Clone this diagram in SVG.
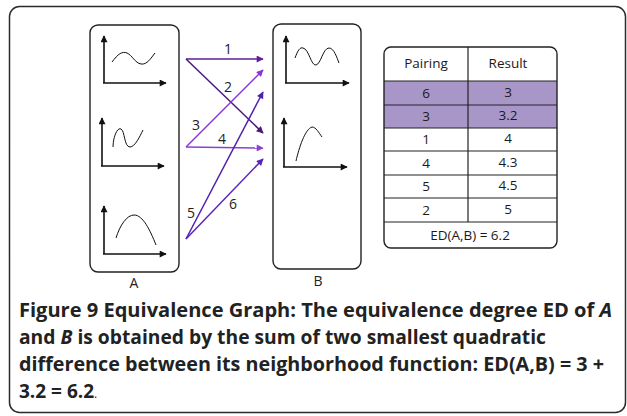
<svg xmlns="http://www.w3.org/2000/svg" width="627" height="416" viewBox="0 0 627 416">
<style>
.frame{fill:none;stroke:#2b2b2b;stroke-width:1.5}
.box{fill:#fff;stroke:#222;stroke-width:1.4}
.axis{fill:none;stroke:#111;stroke-width:1.6}
.curve{fill:none;stroke:#111;stroke-width:1}
.lbl{font-family:"Open Sans","Liberation Sans",sans-serif;font-size:14px;fill:#222;text-anchor:middle}
.tbl{font-family:"Open Sans","Liberation Sans",sans-serif;font-size:13.5px;fill:#1a1a1a;text-anchor:middle}
.cap{font-family:"Open Sans","Liberation Sans",sans-serif;font-size:19px;fill:#222;font-weight:700}
.hl{fill:#a896c9}
.line{stroke:#222;stroke-width:1.2}
.conn{fill:none;stroke-width:1.5}
</style>
<defs>
<marker id="axh" viewBox="0 0 10 10" refX="9" refY="5" markerWidth="8" markerHeight="7" markerUnits="userSpaceOnUse" orient="auto"><path d="M0,0 L10,5 L0,10 z" fill="#111"/></marker>
<marker id="m1" viewBox="0 0 10 10" refX="9" refY="5" markerWidth="9" markerHeight="7" markerUnits="userSpaceOnUse" orient="auto"><path d="M0,0 L10,5 L0,10 z" fill="#5c1f99"/></marker>
<marker id="m2" viewBox="0 0 10 10" refX="9" refY="5" markerWidth="9" markerHeight="7" markerUnits="userSpaceOnUse" orient="auto"><path d="M0,0 L10,5 L0,10 z" fill="#4a1a7a"/></marker>
<marker id="m3" viewBox="0 0 10 10" refX="9" refY="5" markerWidth="9" markerHeight="7" markerUnits="userSpaceOnUse" orient="auto"><path d="M0,0 L10,5 L0,10 z" fill="#8b35d6"/></marker>
<marker id="m4" viewBox="0 0 10 10" refX="9" refY="5" markerWidth="9" markerHeight="7" markerUnits="userSpaceOnUse" orient="auto"><path d="M0,0 L10,5 L0,10 z" fill="#8d3fd0"/></marker>
<marker id="m5" viewBox="0 0 10 10" refX="9" refY="5" markerWidth="9" markerHeight="7" markerUnits="userSpaceOnUse" orient="auto"><path d="M0,0 L10,5 L0,10 z" fill="#5020b0"/></marker>
<marker id="m6" viewBox="0 0 10 10" refX="9" refY="5" markerWidth="9" markerHeight="7" markerUnits="userSpaceOnUse" orient="auto"><path d="M0,0 L10,5 L0,10 z" fill="#5a22b8"/></marker>
</defs>
<rect width="627" height="416" fill="#fff"/>
<rect class="frame" x="9.5" y="6.5" width="616" height="406" rx="10"/>

<g id="nodeA">
<rect class="box" x="90" y="25" width="89" height="247" rx="8"/>
<g>
<path class="axis" d="M104,83 L104,36" marker-end="url(#axh)"/>
<path class="axis" d="M103,83 L166,83" marker-end="url(#axh)"/>
<path class="curve" d="M112,62 C118,54 122,51 127,53 C132,55 135,63 141,64 C147,65 151,58 155,53"/>
</g>
<g>
<path class="axis" d="M102,166 L102,118" marker-end="url(#axh)"/>
<path class="axis" d="M101,166 L164,166" marker-end="url(#axh)"/>
<path class="curve" d="M113,147 C113,138 117,127 121,129 C125,131 124,147 130,147 C135,147 140,136 143,130"/>
</g>
<g>
<path class="axis" d="M104,254 L104,206" marker-end="url(#axh)"/>
<path class="axis" d="M103,254 L166,254" marker-end="url(#axh)"/>
<path class="curve" d="M116,238 C120,225 127,215 134,215 C143,215 150,230 156,245"/>
</g>
<text class="lbl" x="134" y="288" font-size="13">A</text>
</g>

<g id="nodeB">
<rect class="box" x="273" y="24" width="88" height="245" rx="8"/>
<g>
<path class="axis" d="M286,83 L286,36" marker-end="url(#axh)"/>
<path class="axis" d="M285,83 L349,83" marker-end="url(#axh)"/>
<path class="curve" d="M295,58 C298,50 300,47 303,48 C309,49 311,66 316,65 C321,64 323,48 329,48 C334,48 337,58 339,63"/>
</g>
<g>
<path class="axis" d="M284,167 L284,118" marker-end="url(#axh)"/>
<path class="axis" d="M283,167 L347,167" marker-end="url(#axh)"/>
<path class="curve" d="M296,161 C299,148 305,129 312,127 C316,127 319,133 322,137"/>
</g>
<text class="lbl" x="318" y="286" font-size="13">B</text>
</g>

<g id="connectors">
<line class="conn" x1="186" y1="59" x2="263" y2="59" stroke="#5c1f99" marker-end="url(#m1)"/>
<line class="conn" x1="186" y1="59" x2="263" y2="133" stroke="#4a1a7a" marker-end="url(#m2)"/>
<line class="conn" x1="186" y1="147" x2="263" y2="70" stroke="#8b35d6" marker-end="url(#m3)"/>
<line class="conn" x1="186" y1="147" x2="263" y2="148" stroke="#8d3fd0" marker-end="url(#m4)"/>
<line class="conn" x1="186" y1="239" x2="263" y2="92" stroke="#5020b0" marker-end="url(#m5)"/>
<line class="conn" x1="186" y1="239" x2="263" y2="159" stroke="#5a22b8" marker-end="url(#m6)"/>
<text class="lbl" x="228" y="54">1</text>
<text class="lbl" x="228" y="92">2</text>
<text class="lbl" x="196" y="130">3</text>
<text class="lbl" x="222" y="144">4</text>
<text class="lbl" x="191" y="218">5</text>
<text class="lbl" x="233" y="209">6</text>
</g>

<g id="table">
<rect class="hl" x="384" y="81" width="173" height="47"/>
<rect class="box" x="384" y="47" width="173" height="201" rx="7" style="fill:none"/>
<line class="line" x1="384" y1="81" x2="557" y2="81"/>
<line class="line" x1="384" y1="105" x2="557" y2="105"/>
<line class="line" x1="384" y1="128" x2="557" y2="128"/>
<line class="line" x1="384" y1="151" x2="557" y2="151"/>
<line class="line" x1="384" y1="175" x2="557" y2="175"/>
<line class="line" x1="384" y1="198" x2="557" y2="198"/>
<line class="line" x1="384" y1="222" x2="557" y2="222"/>
<line class="line" x1="468" y1="47" x2="468" y2="222"/>
<text class="tbl" x="426" y="68">Pairing</text>
<text class="tbl" x="508" y="68">Result</text>
<text class="tbl" x="426" y="98">6</text><text class="tbl" x="508" y="97">3</text>
<text class="tbl" x="426" y="121">3</text><text class="tbl" x="508" y="120">3.2</text>
<text class="tbl" x="426" y="144">1</text><text class="tbl" x="508" y="143">4</text>
<text class="tbl" x="426" y="168">4</text><text class="tbl" x="508" y="167">4.3</text>
<text class="tbl" x="426" y="191">5</text><text class="tbl" x="508" y="190">4.5</text>
<text class="tbl" x="426" y="215">2</text><text class="tbl" x="508" y="214">5</text>
<text class="tbl" x="470" y="240">ED(A,B) = 6.2</text>
</g>

<g id="caption">
<text class="cap" x="19" y="317" textLength="593" lengthAdjust="spacingAndGlyphs">Figure 9 Equivalence Graph: The equivalence degree ED of <tspan font-style="italic">A</tspan></text>
<text class="cap" x="19" y="344" textLength="527" lengthAdjust="spacingAndGlyphs">and <tspan font-style="italic">B</tspan> is obtained by the sum of two smallest quadratic</text>
<text class="cap" x="19" y="371" textLength="585" lengthAdjust="spacingAndGlyphs">difference between its neighborhood function: ED(A,B) = 3 +</text>
<text class="cap" x="19" y="398">3.2 = 6.2<tspan font-weight="400" font-size="12">.</tspan></text>
</g>
</svg>
